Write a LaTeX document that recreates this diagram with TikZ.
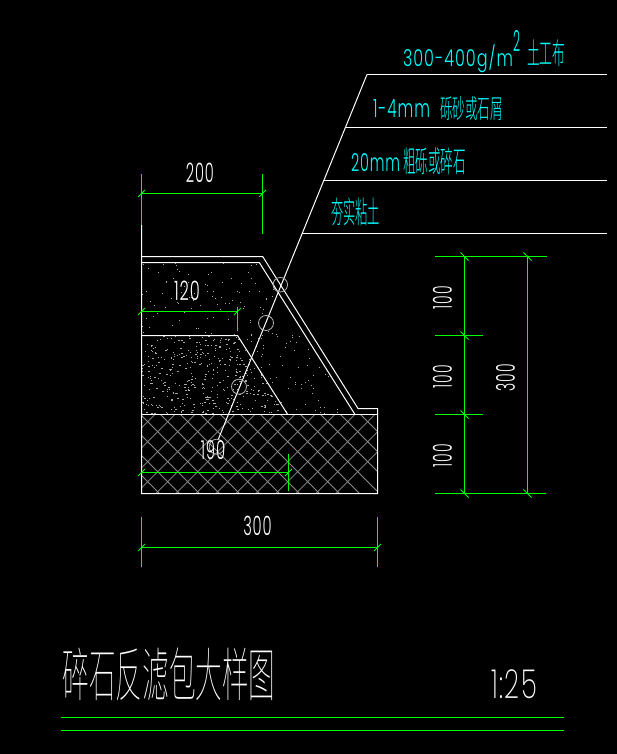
\documentclass[tikz,border=0pt]{standalone}
\usepackage{fontspec}
\usepackage{graphicx}
\newfontfamily\latinthin[LetterSpace=6]{Poppins Light}
\newfontfamily\latinbig[LetterSpace=6]{Poppins ExtraLight}
\newfontfamily\cjkthin{Noto Sans CJK SC Light}
\newfontfamily\cjktitle{Noto Sans CJK SC Thin}
\newcommand{\fitbox}[3]{\resizebox*{#1pt}{#2pt}{#3}}
\definecolor{cadgreen}{RGB}{0,255,0}
\definecolor{cadcyan}{RGB}{0,255,255}
\definecolor{hatchgrey}{RGB}{140,140,140}
\definecolor{speck}{RGB}{170,170,170}
\tikzset{
  obj/.style={draw=white,line width=1pt},
  dimline/.style={draw=cadgreen,line width=1pt},
  tick/.style={draw=cadgreen,line width=.8pt},
  hatchline/.style={draw=hatchgrey,line width=.8pt},
  ring/.style={draw=white!70!black,line width=.8pt},
  lab/.style={inner sep=0pt,outer sep=0pt},
  labw/.style={lab,text=white},
  labc/.style={lab,text=cadcyan},
}
\usetikzlibrary{calc}
\newcommand{\slashtick}[1]{\draw[tick] ($(#1)+(-3.5,3.5)$) -- ($(#1)+(3.5,-3.5)$);}
\newcommand{\backtick}[1]{\draw[tick] ($(#1)+(-4,-4)$) -- ($(#1)+(4,4)$);}
\begin{document}
\begin{tikzpicture}[x=1pt,y=-1pt]
\path[fill=black,use as bounding box] (0,0) rectangle (617,754);

% speckle layers
\begin{scope}
  \clip (141.5,262.5) -- (259.5,262.5) -- (355,414) -- (287.7,414) -- (237.5,335) -- (141.5,335) -- cycle;
  \pgfmathsetseed{11}
  \foreach \i in {1,...,300}{
    \pgfmathsetmacro\px{int(141+rnd*215)}
    \pgfmathsetmacro\py{int(262+rnd*152)}
    \fill[speck] (\px,\py) rectangle ++(1,1);
  }
\end{scope}
\begin{scope}
  \clip (141.5,335) -- (237.5,335) -- (287.7,414) -- (141.5,414) -- cycle;
  \pgfmathsetseed{23}
  \foreach \i in {1,...,480}{
    \pgfmathsetmacro\px{int(141+rnd*147)}
    \pgfmathsetmacro\py{int(335+rnd*79)}
    \pgfmathsetmacro\ps{1+int(rnd*1.6)}
    \fill[speck] (\px,\py) rectangle ++(\ps,1);
  }
\end{scope}
% crosshatch
\begin{scope}
  \clip (141.5,414) rectangle (377.5,493.5);
  \foreach \k in {-14,...,12}{
    \draw[hatchline] ({20*\k+167.7},421.7) ++(-100,-100) -- ++(300,300);
    \draw[hatchline] ({20*\k+167.7},421.7) ++(-100,100) -- ++(300,-300);
  }
\end{scope}

% named points
\coordinate (tl) at (141.5,256.5);
\coordinate (tr) at (262.7,256.5);
\coordinate (il) at (141.5,262.5);
\coordinate (ir) at (259.3,262.5);
\coordinate (st) at (358,408.5);
\coordinate (sr) at (377.5,408.5);
\coordinate (br) at (377.5,493.5);
\coordinate (bl) at (141.5,493.5);
\coordinate (gl) at (141.5,414.5);
\coordinate (gr) at (377.5,414.5);
\coordinate (ig) at (355,414.5);
\coordinate (ml) at (141.5,335.5);
\coordinate (mr) at (237.5,335.5);
\coordinate (mg) at (287.7,414.5);
\coordinate (wt) at (141.5,225);

% object lines
\draw[obj] (wt) -- (bl) -- (br) -- (sr) -- (st) -- (tr) -- (tl);
\draw[obj] (il) -- (ir) -- (ig);
\draw[obj] (gl) -- (gr);
\draw[obj] (ml) -- (mr) -- (mg);

% leader
\coordinate (la) at (367,74.5);
\coordinate (lz) at (218,440);
\draw[obj] (la) -- (lz);
\coordinate (e1) at (606.7,74.5);
\coordinate (s2) at (345.4,127.5);
\coordinate (e2) at (606.7,127.5);
\coordinate (s3) at (323.7,180.5);
\coordinate (e3) at (606.7,180.5);
\coordinate (s4) at (302.3,233.5);
\coordinate (e4) at (606.7,233.5);
\draw[obj] (la) -- (e1);
\draw[obj] (s2) -- (e2);
\draw[obj] (s3) -- (e3);
\draw[obj] (s4) -- (e4);

% circles
\node[ring,circle,inner sep=0pt,minimum size=14.5pt] (c1) at (280.3,284.7) {};
\node[ring,circle,inner sep=0pt,minimum size=15pt] (c2) at (266,323) {};
\node[ring,circle,inner sep=0pt,minimum size=15pt] (c3) at (239,386.7) {};
\node[ring,circle,inner sep=0pt,minimum size=15pt] (c4) at (216.7,446.7) {};

% dim 200
\coordinate (a1) at (141.5,174); \coordinate (a2) at (141.5,225);
\coordinate (a3) at (262.5,174); \coordinate (a4) at (262.5,233.5);
\coordinate (a5) at (141.5,193.5); \coordinate (a6) at (262.5,193.5);
\draw[dimline] (a1) -- (a2); \draw[dimline] (a3) -- (a4); \draw[dimline] (a5) -- (a6);
\slashtick{a5} \slashtick{a6}
% dim 120
\coordinate (b1) at (141.5,311.5); \coordinate (b2) at (237.5,311.5);
\coordinate (b3) at (237.5,306.7); \coordinate (b4) at (237.5,330.7);
\draw[dimline] (b1) -- (b2); \draw[dimline] (b3) -- (b4);
\slashtick{b1} \slashtick{b2}
% dim 190
\coordinate (d1) at (141.5,472.5); \coordinate (d2) at (288.5,472.5);
\coordinate (d3) at (288.5,454); \coordinate (d4) at (288.5,491);
\draw[dimline] (d1) -- (d2); \draw[dimline] (d3) -- (d4);
\slashtick{d1} \slashtick{d2}
% dim 300 bottom
\coordinate (f1) at (141.5,517); \coordinate (f2) at (141.5,566.5);
\coordinate (f3) at (377.5,517); \coordinate (f4) at (377.5,566.5);
\coordinate (f5) at (141.5,547.5); \coordinate (f6) at (377.5,547.5);
\draw[dimline] (f1) -- (f2); \draw[dimline] (f3) -- (f4); \draw[dimline] (f5) -- (f6);
\slashtick{f5} \slashtick{f6}
% right dims
\coordinate (r1a) at (435,256.5); \coordinate (r1b) at (547,256.5);
\coordinate (r2a) at (435,335.5); \coordinate (r2b) at (483,335.5);
\coordinate (r3a) at (435,414.5); \coordinate (r3b) at (483,414.5);
\coordinate (r4a) at (435,493.5); \coordinate (r4b) at (546,493.5);
\coordinate (v1t) at (464.5,256.5); \coordinate (v1m) at (464.5,335.5);
\coordinate (v1n) at (464.5,414.5); \coordinate (v1b) at (464.5,493.5);
\coordinate (v2t) at (527.5,256.5); \coordinate (v2b) at (527.5,493.5);
\draw[dimline] (r1a) -- (r1b); \draw[dimline] (r2a) -- (r2b);
\draw[dimline] (r3a) -- (r3b); \draw[dimline] (r4a) -- (r4b);
\draw[dimline] (v1t) -- (v1b); \draw[dimline] (v2t) -- (v2b);
\backtick{v1t} \backtick{v1m} \backtick{v1n} \backtick{v1b} \backtick{v2t} \backtick{v2b}

% title lines
\coordinate (u1) at (61,717.5); \coordinate (u2) at (564,717.5);
\coordinate (u3) at (61,730.5); \coordinate (u4) at (564,730.5);
\draw[dimline] (u1) -- (u2);
\draw[dimline] (u3) -- (u4);

% white dimension text
\node[labw] (t200) at (199.8,172.5) {\fitbox{28}{19.5}{\latinthin 200}};
\node[labw] (t120) at (187,290.3) {\fitbox{26}{19.5}{\latinthin 120}};
\node[labw] (t190) at (213,450.5) {\fitbox{24.5}{19}{\latinthin 190}};
\node[labw] (t300) at (257.5,526.3) {\fitbox{28.5}{19.5}{\latinthin 300}};
\node[labw,rotate=90] (v100a) at (442.5,297.5) {\fitbox{23}{19}{\latinthin 100}};
\node[labw,rotate=90] (v100b) at (442.5,376.5) {\fitbox{23}{19}{\latinthin 100}};
\node[labw,rotate=90] (v100c) at (442.5,455.5) {\fitbox{23}{19}{\latinthin 100}};
\node[labw,rotate=90] (v300) at (505.5,377.5) {\fitbox{27}{19}{\latinthin 300}};

% cyan labels
\node[labc] (l1a) at (458,59) {\fitbox{110}{28}{\latinthin 300-400g/m}};
\node[labc] (l1s) at (516.5,41) {\fitbox{7}{21}{\latinthin 2}};
\node[labc] (l1c) at (546,53.5) {\fitbox{38}{27}{\cjkthin 土工布}};
\node[labc] (l2a) at (401.5,109) {\fitbox{57}{18}{\latinthin 1-4mm}};
\node[labc] (l2c) at (471.5,108) {\fitbox{63}{24}{\cjkthin 砾砂或石屑}};
\node[labc] (l3a) at (375.5,163) {\fitbox{49}{18}{\latinthin 20mm}};
\node[labc] (l3c) at (434.5,161.5) {\fitbox{63}{27}{\cjkthin 粗砾或碎石}};
\node[labc] (l4c) at (355.5,212) {\fitbox{49}{28}{\cjkthin 夯实粘土}};

% title
\node[labw] (title) at (169,674) {\fitbox{213}{53}{\cjktitle 碎石反滤包大样图}};
\node[labw] (scale) at (514,684) {\fitbox{46}{29}{\latinbig 1:25}};
\end{tikzpicture}
\end{document}
